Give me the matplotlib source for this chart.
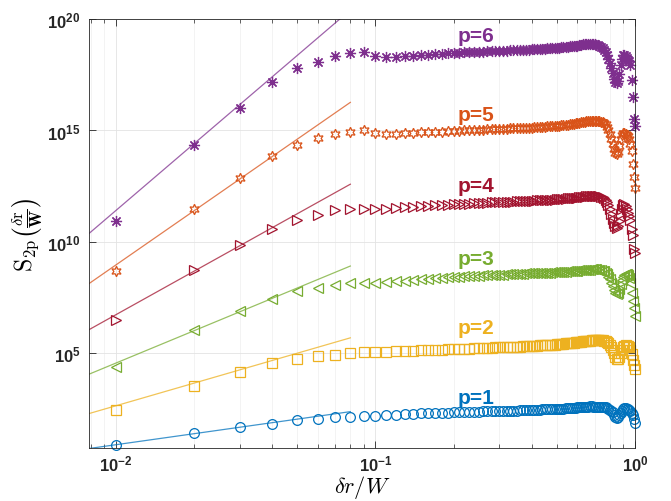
import numpy as np
import matplotlib
matplotlib.use("Agg")
import matplotlib.pyplot as plt
from matplotlib.ticker import NullLocator

plt.rcParams['font.family'] = ['Liberation Sans', 'DejaVu Sans']
plt.rcParams['font.weight'] = 'bold'

# separation dr/W, 0.01 ... 1.00
dr = np.arange(1, 101) / 100

# log10 of S_2p, one list per order p
s_p1 = [0.91, 1.43, 1.70, 1.85, 2.03, 2.08, 2.15, 2.15, 2.21, 2.21,
        2.24, 2.26, 2.28, 2.29, 2.31, 2.32, 2.33, 2.34, 2.35, 2.36,
        2.37, 2.37, 2.38, 2.39, 2.39, 2.40, 2.40, 2.41, 2.41, 2.42,
        2.42, 2.43, 2.43, 2.44, 2.44, 2.45, 2.45, 2.46, 2.46, 2.47,
        2.47, 2.48, 2.48, 2.49, 2.49, 2.50, 2.50, 2.51, 2.51, 2.52,
        2.52, 2.53, 2.53, 2.54, 2.55, 2.55, 2.56, 2.57, 2.57, 2.58,
        2.59, 2.59, 2.60, 2.61, 2.62, 2.62, 2.63, 2.63, 2.62, 2.62,
        2.62, 2.61, 2.61, 2.60, 2.60, 2.59, 2.58, 2.56, 2.53, 2.48,
        2.43, 2.36, 2.26, 2.16, 2.11, 2.13, 2.22, 2.33, 2.43, 2.52,
        2.56, 2.55, 2.53, 2.50, 2.46, 2.40, 2.33, 2.22, 2.05, 1.88]
s_p2 = [2.48, 3.56, 4.17, 4.58, 4.73, 4.87, 4.94, 5.00, 5.05, 5.05,
        5.07, 5.09, 5.11, 5.12, 5.14, 5.15, 5.16, 5.17, 5.18, 5.19,
        5.20, 5.21, 5.22, 5.23, 5.24, 5.24, 5.25, 5.26, 5.27, 5.27,
        5.28, 5.29, 5.29, 5.30, 5.31, 5.31, 5.32, 5.32, 5.33, 5.34,
        5.34, 5.35, 5.36, 5.37, 5.37, 5.38, 5.39, 5.40, 5.40, 5.41,
        5.42, 5.43, 5.44, 5.45, 5.46, 5.47, 5.48, 5.49, 5.50, 5.51,
        5.52, 5.53, 5.54, 5.55, 5.56, 5.57, 5.58, 5.59, 5.60, 5.60,
        5.61, 5.61, 5.61, 5.60, 5.59, 5.57, 5.55, 5.52, 5.47, 5.40,
        5.30, 5.17, 5.00, 4.86, 4.76, 4.74, 4.85, 5.02, 5.17, 5.28,
        5.35, 5.36, 5.34, 5.32, 5.28, 5.15, 4.98, 4.72, 4.50, 4.30]
s_p3 = [4.38, 6.07, 6.90, 7.45, 7.80, 7.95, 8.07, 8.17, 8.17, 8.14,
        8.20, 8.24, 8.27, 8.30, 8.33, 8.36, 8.38, 8.40, 8.42, 8.44,
        8.45, 8.46, 8.47, 8.48, 8.49, 8.50, 8.51, 8.52, 8.53, 8.53,
        8.54, 8.55, 8.55, 8.56, 8.57, 8.57, 8.58, 8.59, 8.59, 8.60,
        8.60, 8.61, 8.61, 8.62, 8.62, 8.63, 8.63, 8.64, 8.64, 8.65,
        8.65, 8.66, 8.66, 8.67, 8.68, 8.68, 8.69, 8.70, 8.70, 8.71,
        8.72, 8.72, 8.73, 8.74, 8.75, 8.76, 8.76, 8.77, 8.77, 8.77,
        8.77, 8.76, 8.75, 8.73, 8.71, 8.68, 8.63, 8.55, 8.45, 8.32,
        8.18, 8.02, 7.85, 7.72, 7.65, 7.70, 7.88, 8.10, 8.30, 8.45,
        8.52, 8.55, 8.55, 8.50, 8.38, 8.15, 7.72, 7.35, 7.05, 6.70]
s_p4 = [6.49, 8.72, 9.85, 10.60, 10.98, 11.21, 11.43, 11.46, 11.49, 11.46,
        11.50, 11.53, 11.56, 11.58, 11.60, 11.62, 11.64, 11.66, 11.67, 11.69,
        11.70, 11.71, 11.72, 11.73, 11.74, 11.75, 11.76, 11.77, 11.78, 11.78,
        11.79, 11.80, 11.80, 11.81, 11.82, 11.82, 11.83, 11.84, 11.84, 11.85,
        11.85, 11.86, 11.87, 11.87, 11.88, 11.88, 11.89, 11.90, 11.90, 11.91,
        11.92, 11.92, 11.93, 11.94, 11.95, 11.95, 11.96, 11.97, 11.98, 11.99,
        12.00, 12.01, 12.02, 12.03, 12.04, 12.05, 12.06, 12.06, 12.07, 12.07,
        12.07, 12.06, 12.05, 12.03, 12.00, 11.96, 11.90, 11.80, 11.65, 11.47,
        11.27, 11.05, 10.85, 10.70, 10.64, 10.72, 10.95, 11.25, 11.50, 11.65,
        11.68, 11.62, 11.50, 11.32, 11.15, 11.00, 10.60, 10.30, 9.70, 9.50]
s_p5 = [8.69, 11.46, 12.89, 13.86, 14.34, 14.64, 14.83, 14.94, 15.01, 14.87,
        14.85, 14.86, 14.88, 14.90, 14.91, 14.93, 14.94, 14.95, 14.96, 14.98,
        14.99, 15.00, 15.01, 15.02, 15.03, 15.04, 15.05, 15.05, 15.06, 15.07,
        15.08, 15.08, 15.09, 15.10, 15.10, 15.11, 15.12, 15.12, 15.13, 15.13,
        15.14, 15.15, 15.15, 15.16, 15.17, 15.18, 15.18, 15.19, 15.20, 15.21,
        15.22, 15.23, 15.24, 15.25, 15.26, 15.28, 15.29, 15.31, 15.32, 15.34,
        15.35, 15.37, 15.38, 15.40, 15.41, 15.42, 15.43, 15.44, 15.44, 15.44,
        15.44, 15.43, 15.42, 15.40, 15.37, 15.33, 15.27, 15.17, 15.02, 14.83,
        14.62, 14.38, 14.15, 13.99, 13.94, 14.02, 14.30, 14.60, 14.80, 14.88,
        14.88, 14.85, 14.80, 14.76, 14.60, 14.40, 14.08, 13.49, 12.90, 12.40]
s_p6 = [10.94, 14.34, 16.00, 17.18, 17.79, 18.05, 18.32, 18.46, 18.50, 18.32,
        18.30, 18.30, 18.32, 18.35, 18.37, 18.40, 18.42, 18.44, 18.46, 18.48,
        18.49, 18.50, 18.51, 18.52, 18.53, 18.54, 18.55, 18.55, 18.56, 18.56,
        18.57, 18.58, 18.59, 18.59, 18.60, 18.61, 18.62, 18.62, 18.63, 18.64,
        18.64, 18.65, 18.66, 18.67, 18.67, 18.68, 18.69, 18.70, 18.71, 18.72,
        18.72, 18.73, 18.74, 18.75, 18.76, 18.77, 18.78, 18.79, 18.80, 18.81,
        18.83, 18.84, 18.86, 18.88, 18.89, 18.90, 18.90, 18.89, 18.88, 18.86,
        18.84, 18.82, 18.79, 18.75, 18.70, 18.62, 18.52, 18.40, 18.22, 18.02,
        17.80, 17.56, 17.33, 17.18, 17.12, 17.22, 17.55, 17.92, 18.22, 18.38,
        18.40, 18.35, 18.25, 18.15, 18.10, 17.95, 17.26, 16.48, 15.50, 15.20]

# power-law fits over the small scales: log10 value at both ends of fit_x
fit_x = [0.0078, 0.08]
fit_lo = [0.73, 2.29, 4.05, 6.04, 8.10, 10.34]
fit_hi = [2.39, 5.70, 8.92, 12.59, 16.26, 20.40]

labels = ['p=1', 'p=2', 'p=3', 'p=4', 'p=5', 'p=6']
label_x = 0.243
label_y = [3.02, 6.16, 9.26, 12.54, 15.73, 19.28]

series = [s_p1, s_p2, s_p3, s_p4, s_p5, s_p6]
colors = ['#0072BD', '#EDB120', '#77AC30', '#A2142F', '#D95319', '#7E2F8E']
markers = ['o', 's', '<', '>', (6, 1, 0), (8, 2, 0)]
msizes = [7, 6.5, 7, 7, 7.5, 8]

fig = plt.figure(figsize=(6.71, 5.02), dpi=100)
ax = fig.add_axes([0.1326, 0.1056, 0.8137, 0.8546])

for i in range(6):
    ax.plot(fit_x, 10.0 ** np.array([fit_lo[i], fit_hi[i]]), '-',
            color=colors[i], lw=0.9, alpha=0.75)
    ax.plot(dr, 10.0 ** np.array(series[i]), linestyle='none',
            marker=markers[i], ms=msizes[i], mfc='none', mec=colors[i],
            mew=0.9, clip_on=False)
    ax.text(label_x, 10 ** label_y[i], labels[i], color=colors[i],
            fontsize=15, fontweight='bold', ha='center', va='center')

ax.set_xscale('log')
ax.set_yscale('log')
ax.set_xlim(0.00787, 1.0)
ax.set_ylim(10 ** 0.76, 1e20)

ax.set_yticks([1e5, 1e10, 1e15, 1e20])
ax.yaxis.set_minor_locator(NullLocator())

ax.grid(True, which='major', color='#e3e3e3', lw=0.6)
ax.grid(True, which='minor', axis='x', color='#efefef', lw=0.5)
ax.set_axisbelow(True)

ax.tick_params(which='both', direction='in', top=True, right=True,
               colors='#262626', labelsize=12)
ax.tick_params(axis='y', pad=6)
ax.tick_params(axis='x', pad=4)
ax.tick_params(which='major', length=5, width=0.6)
ax.tick_params(which='minor', length=3, width=0.5)
for s in ax.spines.values():
    s.set_color('#262626')
    s.set_linewidth(0.6)

ax.set_xlabel(r'$\delta r/W$', fontsize=16, math_fontfamily='cm',
              labelpad=0)
ax.set_ylabel(r'$\mathrm{S}_{2\mathrm{p}}\left(\frac{\delta\mathrm{r}}{\mathbf{W}}\right)$',
              fontsize=17, math_fontfamily='cm', labelpad=2)

fig.savefig('out.png', dpi=100)
